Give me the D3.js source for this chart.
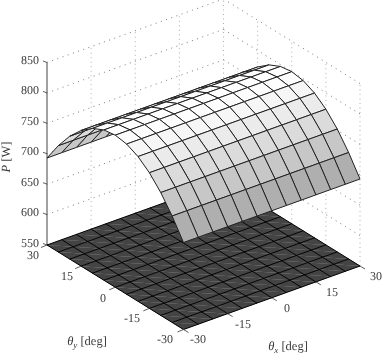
<!DOCTYPE html>
<html>
<head>
<meta charset="utf-8">
<script src="https://cdnjs.cloudflare.com/ajax/libs/d3/7.8.5/d3.min.js"></script>
<style>
	html, body { margin: 0; padding: 0; background: #fff; }
	text { font-family: 'Liberation Serif', serif; fill: #3a3a3a; text-rendering: geometricPrecision; }
	.labels { filter: grayscale(1); }
</style>
</head>
<body>
<div id="chart"></div>
<script>
// mesh nodes, degrees
const thetaX = [-30, -25, -20, -15, -10, -5, 0, 5, 10, 15, 20, 25, 30];
const thetaY = [-30, -25, -20, -15, -10, -5, 0, 5, 10, 15, 20, 25, 30];
// power read along one arch, it does not change with thetaX
const powerByThetaY = [693, 725, 752, 773, 788, 797, 800, 797, 788, 773, 752, 725, 693];
const floorPower = 550;

const angleTicks = [-30, -15, 0, 15, 30];
const powerTicks = [550, 600, 650, 700, 750, 800, 850];

const width = 382, height = 353;

// box corners on screen: left (47,245), back (223.5,181.5), right (360,266)
const sxByX = d3.scaleLinear().domain([-30, 30]).range([0, 176.5]);
const syByX = d3.scaleLinear().domain([-30, 30]).range([0, -63.5]);
const sxByY = d3.scaleLinear().domain([30, -30]).range([0, 136.5]);
const syByY = d3.scaleLinear().domain([30, -30]).range([0, 84.5]);
const syByZ = d3.scaleLinear().domain([550, 850]).range([0, -182.5]);

const project = (x, y, z) => [
	47 + sxByX(x) + sxByY(y),
	245 + syByX(x) + syByY(y) + syByZ(z)
];

const grayScale = d3.scaleLinear().domain([550, 800]).range([68, 255]).clamp(true);
const gray = p => { let g = Math.round(grayScale(p)); return `rgb(${g},${g},${g})`; };

const svg = d3.select("#chart").append("svg")
	.attr("width", width)
	.attr("height", height)
	.style("display", "block");

const poly = pts => "M" + pts.map(p => p.join(",")).join("L") + "Z";

function drawSegments(segs, stroke, strokeWidth, dash) {
	svg.append("g")
		.selectAll("line")
		.data(segs)
		.join("line")
		.attr("x1", d => d[0][0])
		.attr("y1", d => d[0][1])
		.attr("x2", d => d[1][0])
		.attr("y2", d => d[1][1])
		.attr("stroke", stroke)
		.attr("stroke-width", strokeWidth)
		.attr("stroke-dasharray", dash);
}

// dotted grid on the back walls
let wallLevels = powerTicks.filter(p => p > 550);
drawSegments(wallLevels.flatMap(p => [
	[project(-30, 30, p), project(30, 30, p)],
	[project(30, 30, p), project(30, -30, p)]
]), "#555", 0.8, "1 4.5");
drawSegments(angleTicks.slice(1).flatMap(t => [
	[project(t, 30, 550), project(t, 30, 850)],
	[project(30, -t, 550), project(30, -t, 850)]
]), "#999", 0.8, "1 3.5");

// z axis
drawSegments([[project(-30, 30, 550), project(-30, 30, 850)]], "#8a8a8a", 1.6, null);
drawSegments(powerTicks.map(p => {
	let q = project(-30, 30, p);
	return [[q[0] - 4, q[1] - 1.5], q];
}), "#333", 0.8, null);

// floor, two triangles per cell so the seams show like in the original
let floorCells = [];
d3.range(12).forEach(i => d3.range(12).forEach(j => {
	let a = project(thetaX[i], thetaY[j], floorPower);
	let b = project(thetaX[i + 1], thetaY[j], floorPower);
	let c = project(thetaX[i + 1], thetaY[j + 1], floorPower);
	let d = project(thetaX[i], thetaY[j + 1], floorPower);
	floorCells.push([a, b, d], [b, c, d]);
}));
svg.append("g")
	.selectAll("path")
	.data(floorCells)
	.join("path")
	.attr("d", poly)
	.attr("fill", gray(floorPower))
	.attr("stroke", gray(floorPower))
	.attr("stroke-width", 0.25);

let floorLines = [
	...thetaX.map(t => [project(t, -30, floorPower), project(t, 30, floorPower)]),
	...thetaY.map(t => [project(-30, t, floorPower), project(30, t, floorPower)])
];
drawSegments(floorLines, "#000", 1, null);

// ticks on the floor edges
drawSegments(angleTicks.map(t => {
	let p = project(-30, t, floorPower);
	return [p, [p[0] - 6, p[1] + 2.5]];
}), "#333", 0.8, null);
drawSegments(angleTicks.map(t => {
	let p = project(t, -30, floorPower);
	return [p, [p[0] + 5, p[1] + 3]];
}), "#333", 0.8, null);

// surface, far cells first
let cells = [];
d3.range(11, -1, -1).forEach(j => d3.range(11, -1, -1).forEach(i => {
	let p0 = powerByThetaY[j], p1 = powerByThetaY[j + 1];
	cells.push({
		pts: [
			project(thetaX[i], thetaY[j], p0),
			project(thetaX[i + 1], thetaY[j], p0),
			project(thetaX[i + 1], thetaY[j + 1], p1),
			project(thetaX[i], thetaY[j + 1], p1)
		],
		power: p0
	});
}));
svg.append("g")
	.selectAll("path")
	.data(cells)
	.join("path")
	.attr("d", d => poly(d.pts))
	.attr("fill", d => gray(d.power))
	.attr("stroke", "#222")
	.attr("stroke-width", 1)
	.attr("stroke-linejoin", "round");

// all text goes in one group
const labels = svg.append("g").attr("class", "labels");

// tick labels
labels.append("g")
	.attr("font-size", 12)
	.attr("text-anchor", "end")
	.selectAll("text")
	.data(powerTicks)
	.join("text")
	.attr("x", 39)
	.attr("y", d => project(-30, 30, d)[1] + 1.5)
	.text(d => d);

const yTickX = d3.scaleLinear().domain(angleTicks).range([165, 132, 103, 67, 33]);
const yTickY = d3.scaleLinear().domain(angleTicks).range([343, 322, 302, 280, 259]);
labels.append("g")
	.attr("font-size", 12)
	.attr("text-anchor", "middle")
	.selectAll("text")
	.data(angleTicks)
	.join("text")
	.attr("x", d => yTickX(d))
	.attr("y", d => yTickY(d))
	.text(d => d);

const xTickX = d3.scaleLinear().domain(angleTicks).range([198, 243, 287, 332, 376]);
const xTickY = d3.scaleLinear().domain(angleTicks).range([343, 328, 312, 296, 280]);
labels.append("g")
	.attr("font-size", 12)
	.attr("text-anchor", "middle")
	.selectAll("text")
	.data(angleTicks)
	.join("text")
	.attr("x", d => xTickX(d))
	.attr("y", d => xTickY(d))
	.text(d => d);

// axis titles
function axisTitle(x, y, sub) {
	let t = labels.append("text")
		.attr("x", x)
		.attr("y", y)
		.attr("font-size", 12.5)
		.attr("text-anchor", "middle");
	t.append("tspan").attr("font-style", "italic").text("θ");
	t.append("tspan").attr("font-style", "italic").attr("font-size", 9).attr("dy", 2.5).text(sub);
	t.append("tspan").attr("dy", -2.5).text(" [deg]");
}
axisTitle(87, 345, "y");
axisTitle(288, 350, "x");

let pLabel = labels.append("text")
	.attr("transform", "translate(10,157) rotate(-90)")
	.attr("font-size", 12.5)
	.attr("text-anchor", "middle");
pLabel.append("tspan").attr("font-style", "italic").text("P");
pLabel.append("tspan").text(" [W]");
</script>
</body>
</html>
